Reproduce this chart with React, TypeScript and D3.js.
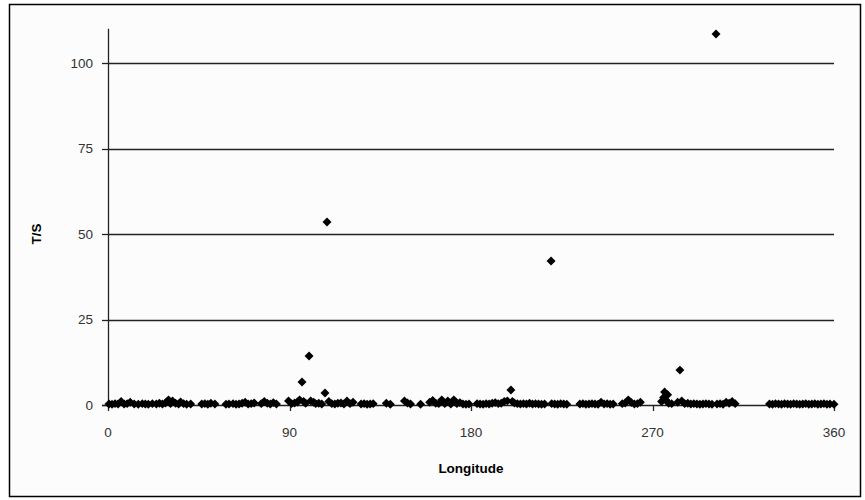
import React from "react";
import * as d3 from "d3";

const yTicks = [0, 25, 50, 75, 100];
const xTicks = [0, 90, 180, 270, 360];
const xTitle = "Longitude";
const yTitle = "T/S";

// [longitude, T/S]
const points: [number, number][] = [
  [0.5, 0.3], [2, 0.2], [3.5, 0.4], [5, 0.3], [6.5, 1.0], [8, 0.3], [9.5, 0.4], [11, 0.8], [13, 0.3], [15, 0.2],
  [17, 0.4], [18.5, 0.3], [20, 0.2], [22, 0.4], [24, 0.3], [25.5, 0.5], [27, 0.3], [28.5, 0.6], [30, 1.5], [31, 0.4],
  [32, 1.2], [33.5, 0.5], [35, 0.3], [36, 0.9], [37.5, 0.4], [39, 0.2], [41, 0.3],
  [46.5, 0.3], [48, 0.4], [49.5, 0.2], [51, 0.5], [53, 0.3],
  [58.5, 0.2], [60, 0.3], [62, 0.4], [63.5, 0.2], [65, 0.3], [66.5, 0.5], [68, 0.8], [69.5, 0.3], [71, 0.4], [72.5, 0.6],
  [76, 0.4], [77.5, 1.0], [79, 0.5], [80.5, 0.3], [82, 0.7], [83.5, 0.3],
  [89.5, 1.2], [91, 0.4], [92.5, 0.6], [94, 0.9], [95, 1.5], [96.2, 6.7], [97, 1.0], [98, 0.5], [99.7, 14.3], [100.5, 1.2],
  [102, 0.8], [103, 0.4], [104.5, 0.5], [106, 0.3], [107.6, 3.5], [108.6, 53.5], [109.5, 1.0], [111, 0.4], [112.5, 0.3], [114, 0.5],
  [115.5, 0.6], [117, 0.3], [118.5, 1.2], [120, 0.4], [121.5, 0.8],
  [125.5, 0.3], [127, 0.4], [128.5, 0.2], [130, 0.3], [131.5, 0.4],
  [138, 0.5], [140, 0.2],
  [147, 1.2], [148.5, 0.6], [150, 0.3],
  [155, 0.2],
  [159.5, 0.8], [161, 1.3], [162.5, 0.5], [164, 0.4], [165.5, 1.5], [167, 0.4], [168.5, 1.2], [170, 0.3], [171.5, 1.5], [173, 0.4],
  [174.5, 0.7], [176, 0.3], [177.5, 0.2], [179, 0.3],
  [183, 0.4], [184.5, 0.3], [186, 0.2], [187.5, 0.4], [189, 0.3], [190.5, 0.5], [192, 0.7], [193.5, 0.4], [195, 0.5], [196.5, 1.0],
  [198, 1.2], [199.8, 4.4], [200.5, 1.0], [201.5, 0.6], [203, 0.4], [204.5, 0.3], [206, 0.4], [207.5, 0.3], [209, 0.5], [210.5, 0.3],
  [212, 0.4], [213.5, 0.3], [215, 0.2], [216.5, 0.3],
  [219.7, 42.1], [220, 0.4], [221.5, 0.3], [223, 0.2], [224.5, 0.4], [226, 0.3], [227.5, 0.2],
  [234, 0.3], [235.5, 0.4], [237, 0.2], [238.5, 0.3], [240, 0.4], [241.5, 0.3], [243, 0.2], [244.5, 0.8], [246, 0.3], [247.5, 0.4],
  [249, 0.2], [250.5, 0.3],
  [255, 0.4], [256.5, 0.6], [258, 1.5], [259.5, 0.7], [261, 0.3], [262.5, 0.4], [264, 0.8],
  [274.5, 1.0], [275.5, 2.2], [276, 3.8], [276.5, 1.5], [277.5, 3.0], [278, 0.5], [279.5, 0.4],
  [282.5, 0.8], [283.6, 10.2], [284.5, 1.2], [286, 0.4], [287.5, 0.5], [289, 0.3], [290.5, 0.4], [292, 0.3], [293.5, 0.2], [295, 0.3],
  [296.5, 0.4], [298, 0.3], [299.5, 0.2], [301.5, 108.5], [302, 0.3], [303.5, 0.4], [305, 0.2], [306.5, 0.8], [308, 0.5], [309.5, 1.0],
  [311, 0.4],
  [328, 0.3], [329.5, 0.2], [331, 0.4], [332.5, 0.3], [334, 0.2], [335.5, 0.4], [337, 0.3], [338.5, 0.2], [340, 0.4], [341.5, 0.3],
  [343, 0.2], [344.5, 0.3], [346, 0.4], [347.5, 0.2], [349, 0.3], [350.5, 0.4], [352, 0.2], [353.5, 0.3], [355, 0.4], [356.5, 0.2],
  [358, 0.3], [360, 0.2],
];

export default function App() {
  const W = 865, H = 500;
  const x = d3.scaleLinear().domain([0, 360]).range([108, 834]);
  const y = d3.scaleLinear().domain([0, 110]).range([405, 28.8]);
  const sym = d3.symbol(d3.symbolSquare, 40)();
  const font = "Arial, 'Liberation Sans', sans-serif";
  return (
    <svg width={W} height={H} style={{ position: "absolute", left: 0, top: 0, background: "#fff" }}>
      <rect x={9.5} y={4.5} width={851} height={492} fill="#fcfcfc" stroke="#000" strokeWidth={1.5} />
      {yTicks.filter(t => t > 0).map(t => (
        <line key={"g" + t} x1={x(0)} x2={x(360)} y1={Math.round(y(t)) + 0.5} y2={Math.round(y(t)) + 0.5} stroke="#222" strokeWidth={1.3} />
      ))}
      <line x1={x(0) + 0.5} x2={x(0) + 0.5} y1={y(110)} y2={y(0)} stroke="#222" strokeWidth={1.3} />
      <line x1={x(0) - 6} x2={x(360)} y1={Math.round(y(0)) + 0.5} y2={Math.round(y(0)) + 0.5} stroke="#222" strokeWidth={1.3} />
      {yTicks.map(t => (
        <g key={"yt" + t}>
          <line x1={x(0) - 6} x2={x(0)} y1={Math.round(y(t)) + 0.5} y2={Math.round(y(t)) + 0.5} stroke="#222" strokeWidth={1.3} />
          <text x={93} y={y(t)} dy="0.35em" textAnchor="end" fontFamily={font} fontSize={13.5} fill="#333">{t}</text>
        </g>
      ))}
      {xTicks.map(t => (
        <g key={"xt" + t}>
          <line x1={Math.round(x(t)) + 0.5} x2={Math.round(x(t)) + 0.5} y1={y(0)} y2={y(0) + 6} stroke="#222" strokeWidth={1.3} />
          <text x={x(t)} y={437} textAnchor="middle" fontFamily={font} fontSize={13.5} fill="#333">{t}</text>
        </g>
      ))}
      {points.map(([lon, v], i) => (
        <path key={i} d={sym} transform={`translate(${x(lon)},${y(v)}) rotate(45)`} fill="#000" />
      ))}
      <text x={471} y={473} textAnchor="middle" fontFamily={font} fontSize={13.5} fontWeight="bold" fill="#000">{xTitle}</text>
      <text transform={`translate(41,${y(50)})rotate(-90)`} textAnchor="middle" fontFamily={font} fontSize={13.5} fontWeight="bold" fill="#000">{yTitle}</text>
    </svg>
  );
}
